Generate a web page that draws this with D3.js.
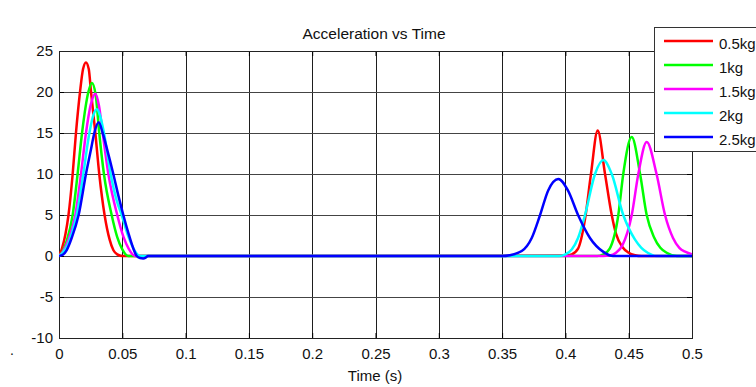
<!DOCTYPE html>
<html>
<head>
<meta charset="utf-8">
<script src="https://cdn.jsdelivr.net/npm/d3@7"></script>
<style>
  body { margin: 0; background: #fff; }
  svg { display: block; font-family: "Liberation Sans", Arial, sans-serif; }
</style>
</head>
<body>
<div id="chart"></div>
<script>
// Acceleration vs Time — five masses, two impact pulses each

// ---- data ----
const seriesNames = ["0.5kg", "1kg", "1.5kg", "2kg", "2.5kg"];
const seriesColors = ["#ff0000", "#00ff00", "#ff00ff", "#00ffff", "#0000ff"];

const timeRed = [0, 0.0025, 0.005, 0.0075, 0.0108, 0.0134, 0.0166, 0.019, 0.0213, 0.0235, 0.0253, 0.0287, 0.0318, 0.036, 0.04, 0.043, 0.046, 0.05,
  0.4, 0.405, 0.41, 0.4155, 0.4202, 0.4255, 0.4313, 0.4366, 0.44, 0.445, 0.45, 0.455, 0.46, 0.5];
const accRed = [0, 1.0, 2.6, 5, 10, 15, 20, 22.8, 23.6, 22.8, 20, 15, 10, 5, 2.0, 0.7, 0.2, 0,
  0.05, 0.2, 0.9, 4.5, 10, 15.3, 10, 5, 2.7, 1.1, 0.4, 0.1, 0, 0];

const timeGreen = [0, 0.003, 0.006, 0.0108, 0.0147, 0.0182, 0.0232, 0.026, 0.029, 0.0318, 0.0355, 0.0416, 0.046, 0.05, 0.0545, 0.06,
  0.425, 0.43, 0.435, 0.4418, 0.4457, 0.4524, 0.459, 0.4642, 0.47, 0.475, 0.48, 0.488, 0.5];
const accGreen = [0, 0.6, 1.8, 5, 10, 15, 20, 21.1, 19.6, 15, 10, 5, 2.3, 0.8, 0, 0,
  0, 0.2, 0.9, 5, 10, 14.5, 10, 5, 2.3, 1.0, 0.4, 0, 0];

const timeMagenta = [0, 0.003, 0.007, 0.0129, 0.0174, 0.0213, 0.025, 0.0287, 0.0315, 0.0345, 0.039, 0.046, 0.051, 0.055, 0.06, 0.065,
  0.43, 0.435, 0.44, 0.445, 0.4524, 0.4576, 0.4642, 0.472, 0.4787, 0.485, 0.49, 0.495, 0.5];
const accMagenta = [0, 0.5, 1.8, 5, 10, 15, 18.4, 19.8, 18.4, 15, 10, 5, 2.3, 0.9, 0, 0,
  0, 0.05, 0.4, 1.3, 5, 10, 13.9, 10, 5, 2.2, 1.0, 0.5, 0.2];

const timeCyan = [0, 0.003, 0.007, 0.0105, 0.014, 0.0192, 0.024, 0.0272, 0.0298, 0.0325, 0.0355, 0.0408, 0.0455, 0.0495, 0.055, 0.06, 0.064, 0.068,
  0.395, 0.4, 0.405, 0.41, 0.4155, 0.4234, 0.43, 0.4366, 0.4457, 0.45, 0.455, 0.46, 0.465, 0.472, 0.5];
const accCyan = [0, 0.4, 1.4, 2.9, 5, 10, 15, 17.2, 17.9, 17.1, 15, 10, 6.8, 5, 2.3, 0.6, 0, 0,
  0, 0.2, 0.8, 2.2, 5, 10, 11.7, 10, 5, 3.4, 2.0, 1.0, 0.4, 0, 0];

const timeBlue = [0, 0.003, 0.006, 0.01, 0.0155, 0.0213, 0.025, 0.0279, 0.0313, 0.0345, 0.038, 0.0429, 0.047, 0.0508, 0.055, 0.0585, 0.0614, 0.064, 0.0665, 0.0685, 0.0703, 0.075,
  0.35, 0.356, 0.3655, 0.3734, 0.38, 0.3864, 0.3944, 0.402, 0.41, 0.4194, 0.43, 0.4376, 0.45, 0.5];
const accBlue = [0, 0.15, 0.7, 2.2, 5, 10, 12.8, 15, 16.3, 15, 13, 10, 7.3, 5, 2.7, 1.0, 0, -0.25, -0.3, -0.2, 0, 0,
  0, 0.1, 0.6, 2.2, 5, 8, 9.4, 8, 5, 2.2, 0.5, 0, 0, 0];

const xTicks = [0, 0.05, 0.1, 0.15, 0.2, 0.25, 0.3, 0.35, 0.4, 0.45, 0.5];
const xTickLabels = ["0", "0.05", "0.1", "0.15", "0.2", "0.25", "0.3", "0.35", "0.4", "0.45", "0.5"];
const yTicks = [-10, -5, 0, 5, 10, 15, 20, 25];
const yTickLabels = ["-10", "-5", "0", "5", "10", "15", "20", "25"];

const allTimes = [timeRed, timeGreen, timeMagenta, timeCyan, timeBlue];
const allAcc = [accRed, accGreen, accMagenta, accCyan, accBlue];

// ---- layout ----
const W = 756, H = 387;
const plotL = 59, plotR = 692, plotT = 51, plotB = 338;

const svg = d3.select("#chart").append("svg")
  .attr("width", W)
  .attr("height", H);

svg.append("rect").attr("width", W).attr("height", H).attr("fill", "#fff");

const x = d3.scaleLinear().domain([0, 0.5]).range([plotL, plotR]);
const y = d3.scaleLinear().domain([-10, 25]).range([plotB, plotT]);

// grid
svg.append("g")
  .selectAll("line")
  .data(xTicks.slice(1, -1))
  .join("line")
  .attr("x1", d => Math.round(x(d)) + 0.5)
  .attr("x2", d => Math.round(x(d)) + 0.5)
  .attr("y1", plotT)
  .attr("y2", plotB)
  .attr("stroke", "#1e1e1e")
  .attr("stroke-width", 1);

svg.append("g")
  .selectAll("line")
  .data(yTicks.slice(1, -1))
  .join("line")
  .attr("x1", plotL)
  .attr("x2", plotR)
  .attr("y1", d => Math.round(y(d)) + 0.5)
  .attr("y2", d => Math.round(y(d)) + 0.5)
  .attr("stroke", "#444")
  .attr("stroke-width", 1);

// axes (inner ticks on all four sides)
const fmtX = d => xTickLabels[xTicks.indexOf(d)];
const fmtY = d => yTickLabels[yTicks.indexOf(d)];

const axisFont = g => g.selectAll("text")
  .attr("font-size", "15px")
  .attr("fill", "#111")
  .attr("font-family", "'Liberation Sans', Arial, sans-serif");

svg.append("g")
  .attr("transform", `translate(0,${plotB})`)
  .call(d3.axisBottom(x).tickValues(xTicks).tickFormat(fmtX).tickSize(-5).tickPadding(10).tickSizeOuter(0))
  .call(axisFont)
  .call(g => g.select(".domain").remove());

svg.append("g")
  .attr("transform", `translate(0,${plotT})`)
  .call(d3.axisTop(x).tickValues(xTicks).tickFormat("").tickSize(-5).tickSizeOuter(0))
  .call(g => g.select(".domain").remove());

svg.append("g")
  .attr("transform", `translate(${plotL},0)`)
  .call(d3.axisLeft(y).tickValues(yTicks).tickFormat(fmtY).tickSize(-5).tickPadding(6).tickSizeOuter(0))
  .call(axisFont)
  .call(g => g.select(".domain").remove());

svg.append("g")
  .attr("transform", `translate(${plotR},0)`)
  .call(d3.axisRight(y).tickValues(yTicks).tickFormat("").tickSize(-5).tickSizeOuter(0))
  .call(g => g.select(".domain").remove());

// plot box
svg.append("rect")
  .attr("x", plotL + 0.5)
  .attr("y", plotT + 0.5)
  .attr("width", plotR - plotL)
  .attr("height", plotB - plotT)
  .attr("fill", "none")
  .attr("stroke", "#222")
  .attr("stroke-width", 1);

// curves
svg.append("clipPath").attr("id", "plot-clip")
  .append("rect")
  .attr("x", plotL).attr("y", plotT)
  .attr("width", plotR - plotL).attr("height", plotB - plotT);

const line = d3.line()
  .x(d => x(d[0]))
  .y(d => y(d[1]))
  .curve(d3.curveMonotoneX);

const curves = svg.append("g").attr("clip-path", "url(#plot-clip)");
seriesNames.forEach((name, i) => {
  const pts = allTimes[i].map((t, k) => [t, allAcc[i][k]]);
  curves.append("path")
    .datum(pts)
    .attr("d", line)
    .attr("fill", "none")
    .attr("stroke", seriesColors[i])
    .attr("stroke-width", 2.5)
    .attr("stroke-linejoin", "round");
});

// title and axis label
svg.append("text")
  .attr("x", 374)
  .attr("y", 39)
  .attr("text-anchor", "middle")
  .attr("font-size", "15.5px")
  .attr("fill", "#111")
  .text("Acceleration vs Time");

svg.append("text")
  .attr("x", 375)
  .attr("y", 381)
  .attr("text-anchor", "middle")
  .attr("font-size", "15px")
  .attr("fill", "#111")
  .text("Time (s)");

svg.append("text")
  .attr("x", 10)
  .attr("y", 355)
  .attr("font-size", "14px")
  .attr("fill", "#111")
  .text(".");

// legend
const legend = svg.append("g").attr("transform", "translate(654,27)");
legend.append("rect")
  .attr("x", 0.5).attr("y", 0.5)
  .attr("width", 120).attr("height", 124)
  .attr("fill", "#fff")
  .attr("stroke", "#333")
  .attr("stroke-width", 1);

seriesNames.forEach((name, i) => {
  const ly = 14 + i * 24;
  legend.append("line")
    .attr("x1", 10).attr("x2", 59)
    .attr("y1", ly).attr("y2", ly)
    .attr("stroke", seriesColors[i])
    .attr("stroke-width", 2.5);
  legend.append("text")
    .attr("x", 65)
    .attr("y", ly + 8)
    .attr("font-size", "15px")
    .attr("fill", "#111")
    .text(name);
});
</script>
</body>
</html>
